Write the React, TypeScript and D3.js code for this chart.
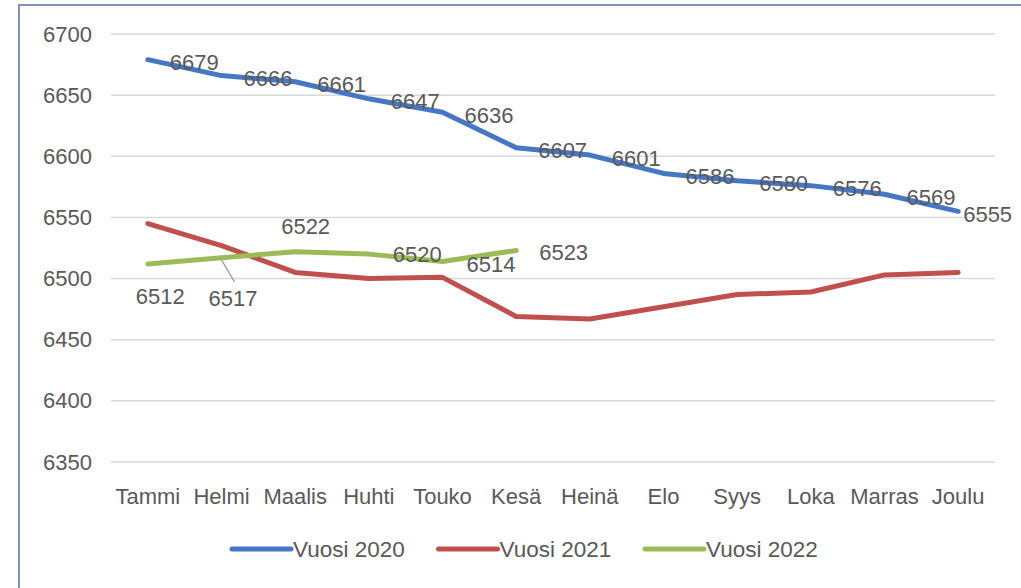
import React from "react";
import * as d3 from "d3";

const months = ["Tammi", "Helmi", "Maalis", "Huhti", "Touko", "Kesä", "Heinä", "Elo", "Syys", "Loka", "Marras", "Joulu"];
const vuosi2020 = [6679, 6666, 6661, 6647, 6636, 6607, 6601, 6586, 6580, 6576, 6569, 6555];
const vuosi2021 = [6545, 6527, 6505, 6500, 6501, 6469, 6467, 6477, 6487, 6489, 6503, 6505];
const vuosi2022 = [6512, 6517, 6522, 6520, 6514, 6523];
const yTicks = [6350, 6400, 6450, 6500, 6550, 6600, 6650, 6700];
const seriesNames = ["Vuosi 2020", "Vuosi 2021", "Vuosi 2022"];

const colors = ["#4677c4", "#c0504d", "#9bbb59"];

// where Excel put each data label, relative to its point
const blueLabelPos = vuosi2020.map((_, i) => (i === vuosi2020.length - 1 ? [5, 3] : [22, 3]));
const greenLabelPos = [
  [-12, 33],
  [-13, 41],
  [-14, -25],
  [24, 0],
  [24, 3],
  [23, 2],
];

const W = 1021;
const H = 588;
const FONT = "'Liberation Sans', Arial, sans-serif";

const App = () => {
  const x = d3.scalePoint().domain(months).range([111, 995]).padding(0.5);
  const y = d3.scaleLinear().domain([6350, 6700]).range([462, 34]);

  const line = d3
    .line<number>()
    .x((_, i) => x(months[i]) as number)
    .y((d) => y(d));

  const series = [vuosi2020, vuosi2021, vuosi2022];

  return (
    <svg width={W} height={H} style={{ position: "absolute", left: 0, top: 0, background: "#fff" }} fontFamily={FONT}>
      {/* frame */}
      <path d={`M19,${H} L19,5 L${W},5`} fill="none" stroke="#8096b8" strokeWidth={2} />

      {/* gridlines + y ticks */}
      {yTicks.map((t) => (
        <g key={t}>
          <line x1={111} x2={995} y1={y(t)} y2={y(t)} stroke="#d9d9d9" strokeWidth={1.5} />
          <text x={92} y={y(t)} textAnchor="end" dominantBaseline="central" fontSize={22} fill="#595959">
            {t}
          </text>
        </g>
      ))}

      {/* x labels */}
      {months.map((m) => (
        <text key={m} x={x(m)} y={496} textAnchor="middle" dominantBaseline="central" fontSize={22} fill="#595959">
          {m}
        </text>
      ))}

      {/* lines */}
      {series.map((s, i) => (
        <path
          key={i}
          d={line(s) || ""}
          fill="none"
          stroke={colors[i]}
          strokeWidth={5}
          strokeLinejoin="round"
          strokeLinecap="round"
        />
      ))}

      {/* leader line for 6517 */}
      <line
        x1={x(months[1])}
        y1={y(vuosi2022[1]) + 2}
        x2={(x(months[1]) as number) + 13}
        y2={y(vuosi2022[1]) + 24}
        stroke="#a6a6a6"
        strokeWidth={1.5}
      />

      {/* data labels */}
      {vuosi2020.map((v, i) => (
        <text
          key={"b" + i}
          x={(x(months[i]) as number) + blueLabelPos[i][0]}
          y={y(v) + blueLabelPos[i][1]}
          dominantBaseline="central"
          fontSize={22}
          fill="#595959"
        >
          {v}
        </text>
      ))}
      {vuosi2022.map((v, i) => (
        <text
          key={"g" + i}
          x={(x(months[i]) as number) + greenLabelPos[i][0]}
          y={y(v) + greenLabelPos[i][1]}
          dominantBaseline="central"
          fontSize={22}
          fill="#595959"
        >
          {v}
        </text>
      ))}

      {/* legend */}
      {seriesNames.map((n, i) => (
        <g key={n} transform={`translate(${232 + i * 206.5},549)`}>
          <line x1={0} x2={59} y1={0} y2={0} stroke={colors[i]} strokeWidth={5} strokeLinecap="round" />
          <text x={61} y={0} dominantBaseline="central" fontSize={22.5} fill="#595959">
            {n}
          </text>
        </g>
      ))}
    </svg>
  );
};

export default App;
